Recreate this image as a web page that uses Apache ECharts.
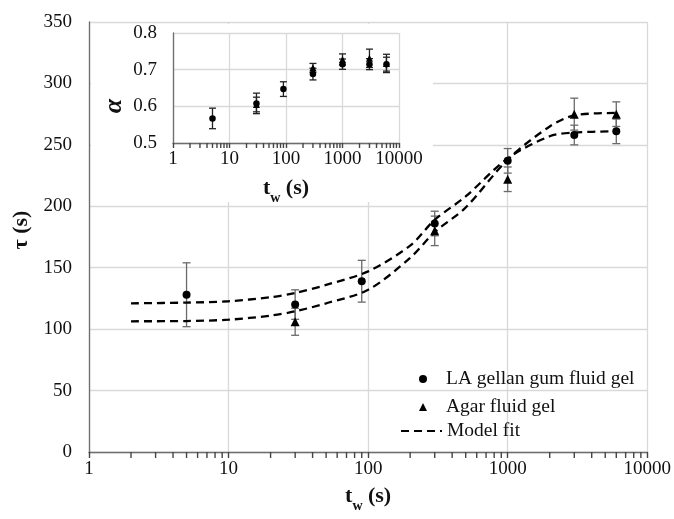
<!DOCTYPE html>
<html>
<head>
<meta charset="utf-8">
<script src="https://cdn.jsdelivr.net/npm/echarts@6/dist/echarts.min.js"></script>
<style>html,body{margin:0;padding:0;background:#fff}#c{width:674px;height:519px}</style>
</head>
<body>
<div id="c"></div>
<script>
// ---------- DATA ----------
const gellanTw   = [5, 30, 90, 300, 1000, 3000, 6000];
const gellanTau  = [128, 120, 139, 186, 237, 258, 261];
const gellanErr  = [26, 12, 17, 10, 10, 8, 10];

const agarTw     = [30, 300, 1000, 3000, 6000];
const agarTau    = [106, 180, 222, 275, 275];
const agarErr    = [11, 12, 10, 13, 10];

const fitTw        = [2, 5, 10, 20, 30, 50, 100, 200, 300, 500, 1000, 2000, 3000, 6000];
const fitGellanTau = [121, 121.6, 122.7, 126, 129.4, 136, 147, 168, 189, 208, 239, 257, 260, 261];
const fitAgarTau   = [106.4, 106.6, 107.7, 111, 114.5, 121, 132, 158, 179, 199, 238, 265, 274, 276];

const gellanAlpha    = [0.567, 0.608, 0.647, 0.688, 0.715, 0.715, 0.715];
const gellanAlphaErr = [0.028, 0.028, 0.02, 0.016, 0.014, 0.015, 0.019];
const agarAlpha      = [0.605, 0.705, 0.728, 0.731, 0.717];
const agarAlphaErr   = [0.02, 0.012, 0.015, 0.025, 0.025];

const xTickLabels = [1, 10, 100, 1000, 10000];
const yTickLabels = [0, 50, 100, 150, 200, 250, 300, 350];
const insetYTickLabels = [0.5, 0.6, 0.7, 0.8];
const minorMultipliers = [2, 3, 4, 5, 6, 7, 8, 9];

const legendNames = ['LA gellan gum fluid gel', 'Agar fluid gel', 'Model fit'];

// ---------- BUILD ----------
const FONT = 'Liberation Serif';
const zip = (a, b) => a.map((v, i) => [v, b[i]]);
const zip3 = (a, b, c) => a.map((v, i) => [v, b[i], c[i]]);

const minorMain = [], minorInset = [];
xTickLabels.slice(0, -1).forEach(d => {
  minorMultipliers.forEach(m => {
    minorMain.push([m * d, yTickLabels[0]]);
    minorInset.push([m * d, insetYTickLabels[0]]);
  });
});

function errRender(capHalf, color) {
  return function (params, api) {
    const x = api.value(0), y = api.value(1), e = api.value(2);
    const hi = api.coord([x, y + e]);
    const lo = api.coord([x, y - e]);
    const st = { stroke: color, lineWidth: 1.3 };
    return { type: 'group', children: [
      { type: 'line', shape: { x1: hi[0], y1: hi[1], x2: lo[0], y2: lo[1] }, style: st },
      { type: 'line', shape: { x1: hi[0] - capHalf, y1: hi[1], x2: hi[0] + capHalf, y2: hi[1] }, style: st },
      { type: 'line', shape: { x1: lo[0] - capHalf, y1: lo[1], x2: lo[0] + capHalf, y2: lo[1] }, style: st }
    ]};
  };
}
function tickRender(len) {
  return function (params, api) {
    const p = api.coord([api.value(0), api.value(1)]);
    return { type: 'line', shape: { x1: p[0], y1: p[1], x2: p[0], y2: p[1] + len },
        style: { stroke: '#444', lineWidth: 1.4 } };
  };
}

const gridColor = '#d9d9d9';
const axisColor = '#6e6e6e';
const txtColor = '#111';

const titleRich = {
  b: { fontFamily: FONT, fontSize: 22, fontWeight: 'bold', color: txtColor, verticalAlign: 'bottom', lineHeight: 24 },
  s: { fontFamily: FONT, fontSize: 14, fontWeight: 'bold', color: txtColor, verticalAlign: 'bottom', lineHeight: 14, padding: [0, 0, -6, 0] }
};

const option = {
  animation: false,
  backgroundColor: '#fff',
  grid: [
    { left: 89, right: 26, top: 22, bottom: 67 },
    { left: 173, right: 275, top: 33, bottom: 376 }
  ],
  graphic: [
    { type: 'rect', z: 1, shape: { x: 91, y: 24, width: 342, height: 178 }, style: { fill: '#fff' } }
  ],
  xAxis: [
    { type: 'log', gridIndex: 0, logBase: 10, min: 1, max: 10000, z: 0,
      axisLine: { lineStyle: { color: axisColor, width: 1.3 } },
      axisTick: { show: true, length: 6, lineStyle: { color: '#444', width: 1.4 } },
      axisLabel: { fontFamily: FONT, fontSize: 19, color: txtColor, margin: 8,
        formatter: v => String(Math.round(v)) },
      splitLine: { show: true, lineStyle: { color: gridColor, width: 1.3 } },
      name: '{b|t}{s|w}{b| (s)}', nameLocation: 'middle', nameGap: 31,
      nameTextStyle: { rich: titleRich } },
    { type: 'log', gridIndex: 1, logBase: 10, min: 1, max: 10000, z: 2,
      axisLine: { lineStyle: { color: axisColor, width: 1.3 } },
      axisTick: { show: true, length: 5, lineStyle: { color: '#444', width: 1.4 } },
      axisLabel: { fontFamily: FONT, fontSize: 19, color: txtColor, margin: 7,
        formatter: v => String(Math.round(v)) },
      splitLine: { show: true, lineStyle: { color: gridColor, width: 1.3 } },
      name: '{b|t}{s|w}{b| (s)}', nameLocation: 'middle', nameGap: 32,
      nameTextStyle: { rich: titleRich } }
  ],
  yAxis: [
    { type: 'value', gridIndex: 0, min: 0, max: 350, interval: 50, z: 0,
      axisLine: { show: true, lineStyle: { color: axisColor, width: 1.3 } },
      axisTick: { show: false },
      axisLabel: { fontFamily: FONT, fontSize: 19, color: txtColor, margin: 17 },
      splitLine: { show: true, lineStyle: { color: gridColor, width: 1.3 } },
      name: 'τ (s)', nameLocation: 'middle', nameGap: 50, nameRotate: 90,
      nameTextStyle: { fontFamily: FONT, fontSize: 22, fontWeight: 'bold', color: txtColor, padding: [0, 0, 0, 14] } },
    { type: 'value', gridIndex: 1, min: 0.5, max: 0.8, interval: 0.1, z: 2,
      axisLine: { show: true, lineStyle: { color: axisColor, width: 1.3 } },
      axisTick: { show: false },
      axisLabel: { fontFamily: FONT, fontSize: 19, color: txtColor, margin: 16,
        formatter: v => v.toFixed(1) },
      splitLine: { show: true, lineStyle: { color: gridColor, width: 1.3 } },
      name: 'α', nameLocation: 'middle', nameGap: 46, nameRotate: 90,
      nameTextStyle: { fontFamily: FONT, fontSize: 26, fontWeight: 'bold', fontStyle: 'italic', color: txtColor, padding: [0, 36, 0, 0] } }
  ],
  legend: [
    {
      data: legendNames.slice(0, 2),
      orient: 'vertical', left: 414, top: 364, itemGap: 8,
      itemWidth: 8, itemHeight: 8,
      textStyle: { fontFamily: FONT, fontSize: 19.5, color: txtColor, padding: [0, 0, 0, 14] },
      selectedMode: false
    },
    {
      data: [{ name: legendNames[2], itemStyle: { opacity: 0 } }],
      orient: 'vertical', left: 395, top: 416,
      itemWidth: 41, itemHeight: 8,
      textStyle: { fontFamily: FONT, fontSize: 19.5, color: txtColor },
      selectedMode: false
    }
  ],
  series: [
    { type: 'custom', xAxisIndex: 0, yAxisIndex: 0, data: zip3(gellanTw, gellanTau, gellanErr), renderItem: errRender(4, '#6a6a6a'), z: 3, encode: { x: 0, y: 1 } },
    { type: 'custom', xAxisIndex: 0, yAxisIndex: 0, data: zip3(agarTw, agarTau, agarErr), renderItem: errRender(4, '#6a6a6a'), z: 3, encode: { x: 0, y: 1 } },
    { name: 'Model fit', type: 'line', xAxisIndex: 0, yAxisIndex: 0, data: zip(fitTw, fitGellanTau), symbol: 'none', showSymbol: false, smooth: 0.3,
      lineStyle: { color: '#000', width: 2.3, type: [8, 5] }, itemStyle: { color: '#000' }, z: 4 },
    { name: 'Model fit', type: 'line', xAxisIndex: 0, yAxisIndex: 0, data: zip(fitTw, fitAgarTau), symbol: 'none', showSymbol: false, smooth: 0.3,
      lineStyle: { color: '#000', width: 2.3, type: [8, 5] }, itemStyle: { color: '#000' }, z: 4 },
    { name: 'LA gellan gum fluid gel', type: 'scatter', xAxisIndex: 0, yAxisIndex: 0, data: zip(gellanTw, gellanTau),
      symbol: 'circle', symbolSize: 8, itemStyle: { color: '#000', opacity: 1 }, z: 5 },
    { name: 'Agar fluid gel', type: 'scatter', xAxisIndex: 0, yAxisIndex: 0, data: zip(agarTw, agarTau),
      symbol: 'triangle', symbolSize: 9, itemStyle: { color: '#000', opacity: 1 }, z: 5 },
    { type: 'custom', xAxisIndex: 1, yAxisIndex: 1, data: zip3(gellanTw, gellanAlpha, gellanAlphaErr), renderItem: errRender(3.5, '#222'), z: 4, encode: { x: 0, y: 1 } },
    { type: 'custom', xAxisIndex: 1, yAxisIndex: 1, data: zip3(agarTw, agarAlpha, agarAlphaErr), renderItem: errRender(3.5, '#222'), z: 4, encode: { x: 0, y: 1 } },
    { type: 'scatter', xAxisIndex: 1, yAxisIndex: 1, data: zip(agarTw, agarAlpha),
      symbol: 'triangle', symbolSize: 7, itemStyle: { color: '#000', opacity: 1 }, z: 5 },
    { type: 'scatter', xAxisIndex: 1, yAxisIndex: 1, data: zip(gellanTw, gellanAlpha),
      symbol: 'circle', symbolSize: 6.5, itemStyle: { color: '#000', opacity: 1 }, z: 5 },
    // minor x ticks, anchored on the axis line (y = axis min)
    { type: 'custom', xAxisIndex: 0, yAxisIndex: 0, data: minorMain, renderItem: tickRender(6), z: 6, clip: false, encode: { x: 0, y: 1 } },
    { type: 'custom', xAxisIndex: 1, yAxisIndex: 1, data: minorInset, renderItem: tickRender(5), z: 6, clip: false, encode: { x: 0, y: 1 } }
  ]
};

const chart = echarts.init(document.getElementById('c'), null, { renderer: 'canvas' });
chart.setOption(option);
</script>
</body>
</html>
